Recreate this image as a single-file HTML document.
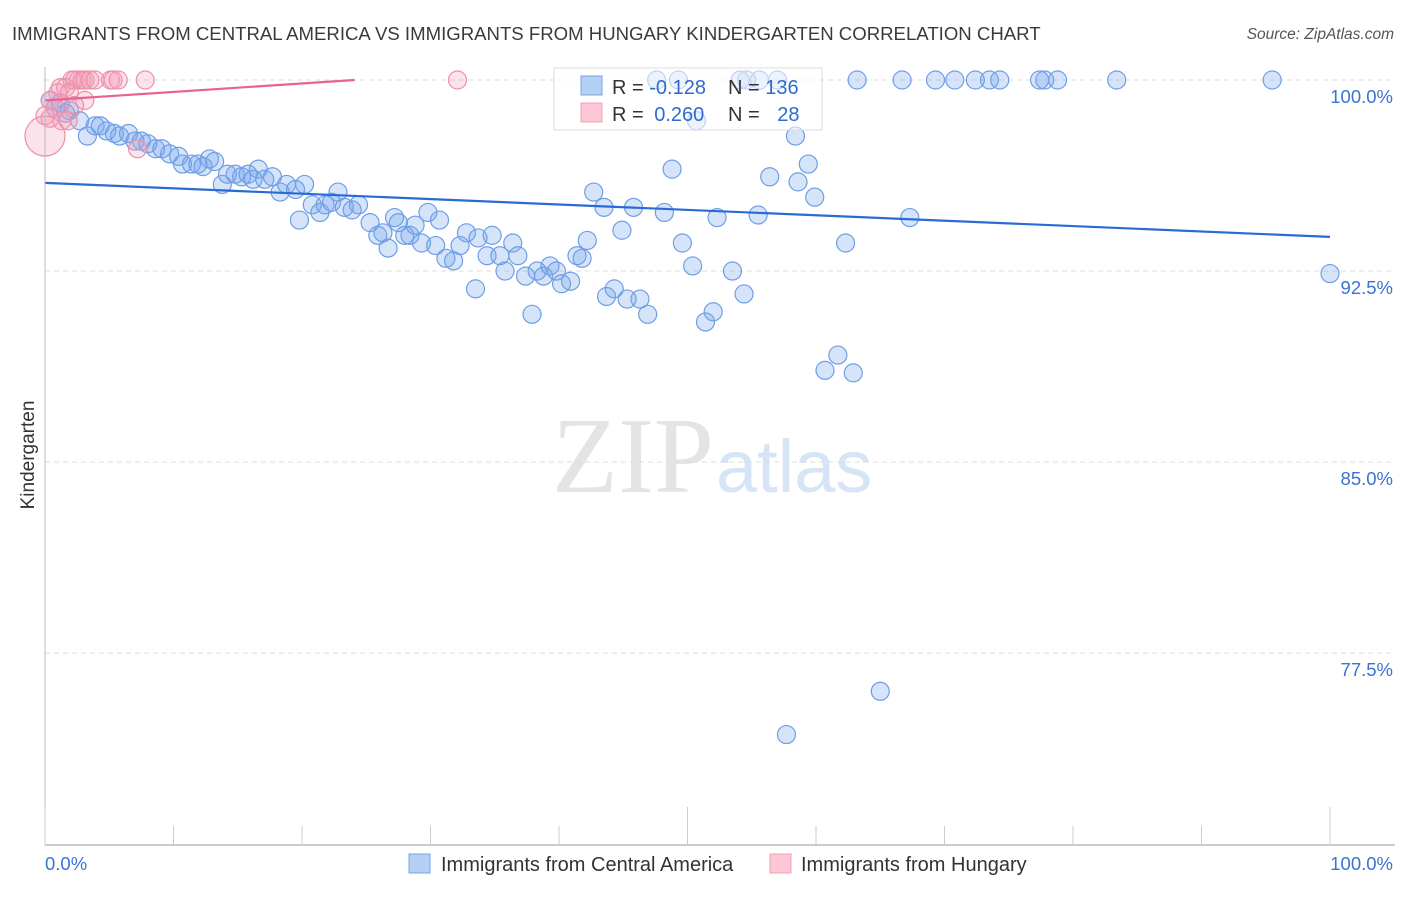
<!DOCTYPE html>
<html><head><meta charset="utf-8"><style>
body{margin:0;background:#fff;font-family:"Liberation Sans",sans-serif}
#wrap{position:relative;width:1406px;height:892px}
</style></head><body>
<div id="wrap">
<svg id="svg" width="1406" height="892" xmlns="http://www.w3.org/2000/svg">
<text x="12" y="40" font-size="18.6" fill="#3a3a3a">IMMIGRANTS FROM CENTRAL AMERICA VS IMMIGRANTS FROM HUNGARY KINDERGARTEN CORRELATION CHART</text>
<text x="1394" y="39" font-size="15.5" fill="#555" font-style="italic" text-anchor="end">Source: ZipAtlas.com</text>
<text x="714" y="492" font-size="108" fill="#e4e4e4" text-anchor="end" font-family="Liberation Serif">ZIP</text>
<text x="716" y="492" font-size="74" fill="#d6e4f6">atlas</text>
<text transform="translate(34,455) rotate(-90)" font-size="19" fill="#333" text-anchor="middle">Kindergarten</text>
<g id="grid"></g><g id="marks"></g><g id="axes"></g>
<rect x="554" y="68" width="268" height="62" fill="#fff" fill-opacity="0.55" stroke="#ddd"/>
<rect x="581" y="76" width="21" height="19" fill="#b5d0f5" stroke="#7aa3e0"/>
<rect x="581" y="103" width="21" height="19" fill="#fcc8d6" stroke="#eea0b5"/>
<text x="612" y="94" font-size="20" fill="#333">R = <tspan fill="#2f6bd0">-0.128</tspan></text>
<text x="728" y="94" font-size="20" fill="#333">N = <tspan fill="#2f6bd0">136</tspan></text>
<text x="612" y="121" font-size="20" fill="#333">R = <tspan fill="#2f6bd0" dx="5">0.260</tspan></text>
<text x="728" y="121" font-size="20" fill="#333">N = <tspan fill="#2f6bd0" dx="12">28</tspan></text>
<rect x="409" y="854" width="21" height="19" fill="#b5d0f5" stroke="#7aa3e0"/>
<text x="441" y="871" font-size="20" fill="#333">Immigrants from Central America</text>
<rect x="770" y="854" width="21" height="19" fill="#fcc8d6" stroke="#eea0b5"/>
<text x="801" y="871" font-size="20" fill="#333">Immigrants from Hungary</text>
</svg></div>
<script>
const yTicks=[100,92.5,85,77.5];
const yTickLabels=["100.0%","92.5%","85.0%","77.5%"];
const xTickLabels=["0.0%","100.0%"];
const blueX=[0.4,0.8,1.2,1.6,1.9,2.7,3.3,3.9,4.3,4.8,5.4,5.8,6.5,7.0,7.5,8.0,8.6,9.1,9.7,10.4,10.7,11.4,11.9,12.3,12.8,13.2,13.8,14.2,14.8,15.3,15.8,16.2,16.6,17.1,17.7,18.3,18.8,19.5,19.8,20.2,20.8,21.4,21.8,22.3,22.8,23.3,23.9,24.4,25.3,25.9,26.3,26.7,27.2,27.5,28.0,28.4,28.8,29.3,29.8,30.4,30.7,31.2,31.8,32.3,32.8,33.5,33.7,34.4,34.8,35.4,35.8,36.4,36.8,37.4,37.9,38.3,38.8,39.3,39.8,40.2,40.9,41.4,41.8,42.2,42.7,43.5,43.7,44.3,44.9,45.3,45.8,46.3,46.9,48.2,48.8,49.6,50.4,50.7,51.4,52.0,52.3,53.5,54.4,55.5,56.4,58.4,58.6,59.4,59.9,60.7,61.7,62.3,62.9,65.0,67.3,57.7,100,47.6,49.3,54.1,54.6,55.6,57.0,63.2,66.7,69.3,70.8,72.4,73.5,74.3,77.4,77.8,78.8,83.4,95.5];
const blueY=[99.2,98.9,99.1,98.7,98.8,98.4,97.8,98.2,98.2,98.0,97.9,97.8,97.9,97.6,97.6,97.5,97.3,97.3,97.1,97.0,96.7,96.7,96.7,96.6,96.9,96.8,95.9,96.3,96.3,96.2,96.3,96.1,96.5,96.1,96.2,95.6,95.9,95.7,94.5,95.9,95.1,94.8,95.1,95.2,95.6,95.0,94.9,95.1,94.4,93.9,94.0,93.4,94.6,94.4,93.9,93.9,94.3,93.6,94.8,93.5,94.5,93.0,92.9,93.5,94.0,91.8,93.8,93.1,93.9,93.1,92.5,93.6,93.1,92.3,90.8,92.5,92.3,92.7,92.5,92.0,92.1,93.1,93.0,93.7,95.6,95.0,91.5,91.8,94.1,91.4,95.0,91.4,90.8,94.8,96.5,93.6,92.7,98.4,90.5,90.9,94.6,92.5,91.6,94.7,96.2,97.8,96.0,96.7,95.4,88.6,89.2,93.6,88.5,76.0,94.6,74.3,92.4,100,100,100,100,100,100,100,100,100,100,100,100,100,100,100,100,100,100];
const pinkX=[2.1,2.3,2.6,2.9,3.1,3.5,3.9,5.1,5.3,5.7,7.8,32.1,1.2,1.6,1.0,1.9,0.4,0.8,0.0,0.4,1.3,1.8,3.1,2.3,7.2,0.0];
const pinkY=[100,100,100,100,100,100,100,100,100,100,100,100,99.7,99.7,99.5,99.5,99.2,98.9,98.6,98.5,98.4,98.4,99.2,99.0,97.3,97.8];
const pinkR=[9,9,9,9,9,9,9,9,9,9,9,9,9,9,9,9,9,9,9,9,9,9,9,9,9,20];
const blueTrend=[[0,95.96],[100,93.84]];
const pinkTrend=[[0,99.2],[24.1,100]];
const NS="http://www.w3.org/2000/svg";
const X0=45,X1=1330,Y100=80,PXPER=25.47;
const xs=v=>X0+(X1-X0)*v/100;
const ys=v=>Y100+(100-v)*PXPER;
function mk(tag,attrs,parent){const e=document.createElementNS(NS,tag);for(const k in attrs)e.setAttribute(k,attrs[k]);parent.appendChild(e);return e;}
const grid=document.getElementById('grid'),marks=document.getElementById('marks'),axes=document.getElementById('axes');
yTicks.forEach((t,i)=>{
 const l=mk('line',{x1:45,x2:1395,y1:ys(t),y2:ys(t),stroke:'#ddd','stroke-dasharray':'5,4'},grid);
 
 
 const tx=mk('text',{x:1393,y:ys(t)+23,'font-size':18.5,fill:'#3a72d6','text-anchor':'end'},axes);
 tx.textContent=yTickLabels[i];
 
 
});
const al=mk('line',{x1:45,x2:45,y1:67,y2:845,stroke:'#bbb'},axes);


const bl=mk('line',{x1:45,x2:1395,y1:845,y2:845,stroke:'#bbb','stroke-width':1.5},axes);


for(let i=0;i<=10;i++){
 const tk=mk('line',{x1:xs(i*10),x2:xs(i*10),y1:(i%5==0)?807:826,y2:845,stroke:'#ccc'},axes);
 
 
}
[[0,'start',45],[1,'end',1393]].forEach(([i,a,x])=>{
 const tx=mk('text',{x:x,y:870,'font-size':18.5,fill:'#3a72d6','text-anchor':a},axes);
 tx.textContent=xTickLabels[i];
 
 
});
blueX.forEach((v,i)=>{
 const c=mk('circle',{cx:xs(v),cy:ys(blueY[i]),r:9,fill:'rgba(120,165,235,0.3)',stroke:'#6f9ee6','stroke-width':1.2},marks);
 
 
});
pinkX.forEach((v,i)=>{
 const c=mk('circle',{cx:xs(v),cy:ys(pinkY[i]),r:pinkR[i],fill:'rgba(245,160,185,0.3)',stroke:'#ec90aa','stroke-width':1.2},marks);
 
 
});
const tb=mk('line',{x1:xs(blueTrend[0][0]),y1:ys(blueTrend[0][1]),x2:xs(blueTrend[1][0]),y2:ys(blueTrend[1][1]),stroke:'#2a6ad4','stroke-width':2.2},marks);


const tp=mk('line',{x1:xs(pinkTrend[0][0]),y1:ys(pinkTrend[0][1]),x2:xs(pinkTrend[1][0]),y2:ys(pinkTrend[1][1]),stroke:'#e8648e','stroke-width':2.2},marks);


</script>
</body></html>
